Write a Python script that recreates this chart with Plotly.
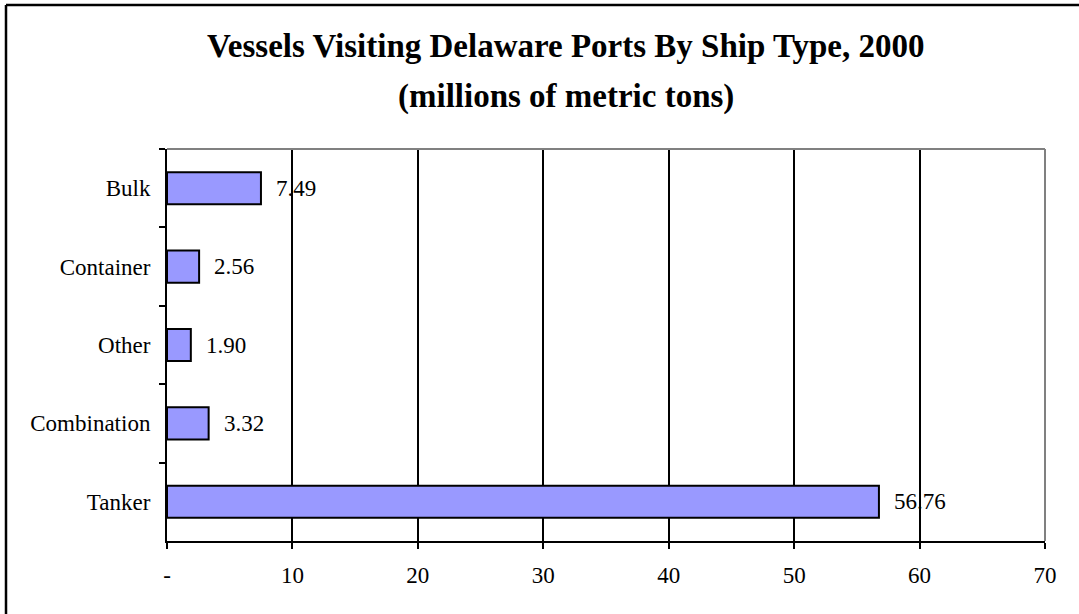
import plotly.graph_objects as go

# Tonnage by ship type, 2000 (millions of metric tons)
ship_types = ["Bulk", "Container", "Other", "Combination", "Tanker"]
tonnage = [7.49, 2.56, 1.90, 3.32, 56.76]
x_tick_vals = [0, 10, 20, 30, 40, 50, 60, 70]
x_tick_text = ["-", "10", "20", "30", "40", "50", "60", "70"]

SERIF = "Liberation Serif, Times New Roman, serif"

fig = go.Figure()
fig.add_trace(go.Bar(
    x=tonnage,
    y=ship_types,
    orientation="h",
    width=0.41,
    marker=dict(color="#9999FF", line=dict(color="black", width=2)),
    hoverinfo="x+y",
))

# value labels just past each bar end
for name, val in zip(ship_types, tonnage):
    fig.add_annotation(
        x=val, y=name, xref="x", yref="y",
        text=f"{val:.2f}", showarrow=False,
        xanchor="left", yanchor="middle", xshift=13,
        font=dict(family=SERIF, size=23, color="black"),
    )

# two-line bold title
fig.add_annotation(
    x=0.4544, y=1.2628, xref="paper", yref="paper",
    text="<b>Vessels Visiting Delaware Ports By Ship Type, 2000</b>",
    showarrow=False, xanchor="center", yanchor="middle",
    font=dict(family=SERIF, size=33, color="black"),
)
fig.add_annotation(
    x=0.4544, y=1.1327, xref="paper", yref="paper",
    text="<b>(millions of metric tons)</b>",
    showarrow=False, xanchor="center", yanchor="middle",
    font=dict(family=SERIF, size=33, color="black"),
)

# gray top and right edges of the plot area
fig.add_shape(type="line", xref="paper", yref="paper", x0=0, x1=1, y0=1, y1=1,
              line=dict(color="#808080", width=2), layer="above")
fig.add_shape(type="line", xref="paper", yref="paper", x0=1, x1=1, y0=0, y1=1,
              line=dict(color="#808080", width=2), layer="above")

# outer chart frame (left and top edges)
fig.add_shape(type="line", xref="paper", yref="paper",
              x0=(6 - 167) / 878, x1=(1085 - 167) / 878,
              y0=(541 - 5) / 392, y1=(541 - 5) / 392,
              line=dict(color="black", width=2.5))
fig.add_shape(type="line", xref="paper", yref="paper",
              x0=(6 - 167) / 878, x1=(6 - 167) / 878,
              y0=(541 - 620) / 392, y1=(541 - 5) / 392,
              line=dict(color="black", width=2.5))

fig.update_layout(
    width=1079, height=614,
    margin=dict(l=167, r=34, t=149, b=73),
    paper_bgcolor="white", plot_bgcolor="white",
    showlegend=False,
    bargap=0.59,
    xaxis=dict(
        range=[0, 70],
        tickmode="array", tickvals=x_tick_vals, ticktext=x_tick_text,
        showgrid=True, gridcolor="black", gridwidth=1.6,
        showline=True, linecolor="black", linewidth=2,
        ticks="outside", ticklen=6, tickwidth=2, tickcolor="black",
        ticklabelstandoff=6,
        zeroline=False,
        tickfont=dict(family=SERIF, size=23, color="black"),
        fixedrange=True,
    ),
    yaxis=dict(
        autorange="reversed",
        categoryorder="array", categoryarray=ship_types,
        tickson="boundaries",
        showgrid=False,
        showline=True, linecolor="black", linewidth=2,
        ticks="outside", ticklen=6, tickwidth=2, tickcolor="black",
        ticklabelstandoff=10,
        tickfont=dict(family=SERIF, size=23, color="black"),
        fixedrange=True,
    ),
)

fig.write_html("out.html")
